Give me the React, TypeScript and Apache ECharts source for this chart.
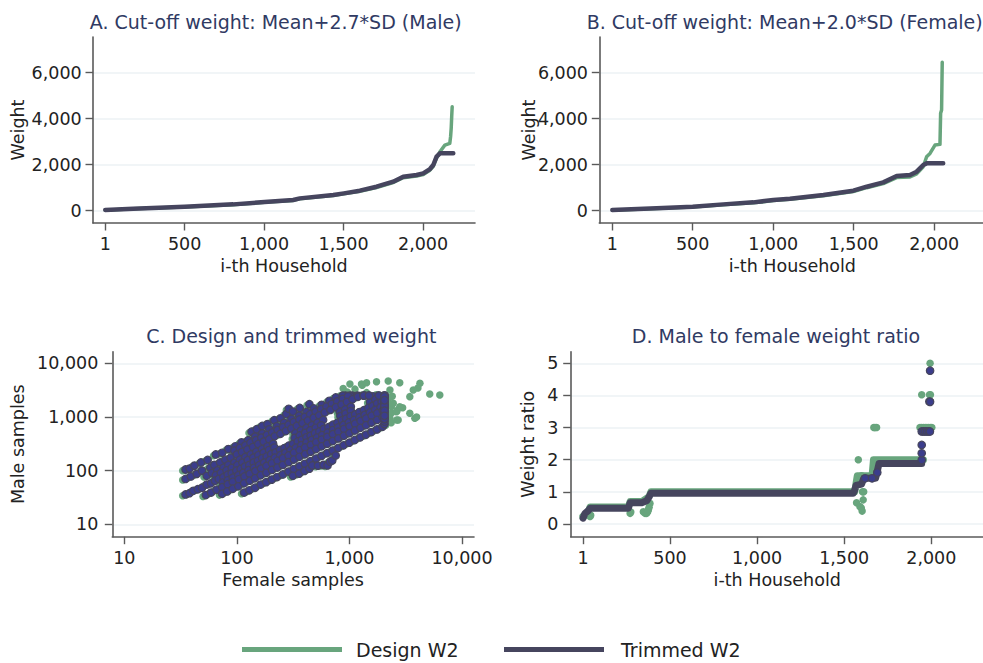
import React, { useEffect, useRef } from "react";
import * as echarts from "echarts";

const FONT = '"DejaVu Sans", sans-serif';
const GREEN = "#68a57d";
const DARK = "#46455e";
const DOT_DARK = "#3b3d8c";
const TITLE_C = "#303a63";
const TEXT_C = "#222222";
const AXIS_C = "#5a5a5a";
const GRID_C = "#edf2f5";

// ---------- Panel titles / legend ----------
const panelTitles = [
  "A. Cut-off weight: Mean+2.7*SD (Male)",
  "B. Cut-off weight: Mean+2.0*SD (Female)",
  "C. Design and trimmed weight",
  "D. Male to female weight ratio",
];
const legendNames = ["Design W2", "Trimmed W2"];

// ---------- Tick values ----------
const householdTicks = [1, 500, 1000, 1500, 2000];
const weightTicks = [0, 2000, 4000, 6000];
const logTicks = [10, 100, 1000, 10000];
const ratioTicks = [0, 1, 2, 3, 4, 5];

// ---------- Panel A: male weights, sorted [i-th household, weight] ----------
const designMale = [
  [1, 18], [177, 80], [500, 163], [806, 262], [1003, 362], [1183, 448], [1225, 515],
  [1435, 660], [1502, 732], [1602, 845], [1707, 1010], [1812, 1225], [1875, 1435],
  [1959, 1505], [2001, 1575], [2043, 1760], [2064, 1930], [2085, 2300], [2106, 2560],
  [2137, 2850], [2168, 2930], [2173, 3220], [2177, 3600], [2180, 4100], [2183, 4520],
];
const trimmedMale = [
  [1, 30], [177, 87], [500, 174], [806, 275], [1003, 377], [1183, 464], [1225, 536],
  [1435, 681], [1502, 754], [1602, 870], [1707, 1043], [1812, 1261], [1875, 1478],
  [1959, 1551], [2001, 1623], [2043, 1812], [2064, 1986], [2085, 2348], [2106, 2493],
  [2190, 2493],
];

// ---------- Panel B: female weights ----------
const designFemale = [
  [1, 20], [276, 90], [500, 160], [690, 255], [877, 340], [1001, 440], [1104, 495],
  [1312, 650], [1498, 830], [1581, 1000], [1684, 1180], [1767, 1440], [1850, 1470],
  [1891, 1600], [1932, 1913], [1953, 2348], [1974, 2490], [2005, 2855], [2036, 2884],
  [2040, 4232], [2046, 4377], [2050, 6450],
];
const trimmedFemale = [
  [1, 29], [276, 101], [500, 174], [690, 275], [877, 362], [1001, 464], [1104, 522],
  [1312, 681], [1498, 870], [1581, 1043], [1684, 1232], [1767, 1507], [1850, 1551],
  [1891, 1696], [1932, 1986], [1953, 2058], [2056, 2058],
];

// ---------- Panel C: [female weight, male weight] ----------
const designR4 = [[128,505],[142,560],[160,650],[178,700],[205,830],[232,900],[262,1080],[275,1350],[300,1200],[345,1400],[420,1650],[880,3400],[1010,4110]];
const designR3 = [[33,100],[36,104],[40,118],[46,135],[52,150],[62,190],[70,205],[80,240],[92,270],[105,320],[120,350],[138,410],[160,470],[185,560],[215,640],[250,740],[290,870],[340,1010],[395,1180],[460,1370],[540,1600],[630,1900],[720,2200],[830,2480],[960,2900],[1120,3300],[1300,3900]];
const designR25 = [[90,225],[101,252],[113,282],[126,315],[141,352],[157,392],[176,440],[196,490],[219,548],[245,612],[274,685],[306,765],[342,855],[382,955],[427,1068],[477,1192],[533,1332],[595,1488],[665,1662],[743,1858],[830,2075],[927,2318]];
const designR2 = [[33,67],[37,74],[42,83],[47,95],[55,108],[60,122],[68,135],[75,152],[84,166],[95,190],[106,212],[118,236],[132,262],[148,298],[165,330],[185,368],[207,415],[232,462],[260,520],[290,582],[325,648],[365,730],[408,815],[458,918],[512,1020],[575,1150],[645,1290],[722,1445],[810,1620],[905,1810],[1015,2030],[1135,2270],[1270,2540],[1420,2840]];
const designR15 = [[51,76],[57,86],[64,96],[72,108],[80,121],[90,134],[101,152],[113,170],[127,190],[142,214],[159,238],[178,268],[200,300],[315,472],[353,530],[395,592],[443,665],[496,744],[556,834],[781,1170],[875,1312],[980,1470],[1542,2313],[1727,2590]];
const designR125 = [[62,78],[69,86],[77,96],[86,107],[96,120],[107,134],[119,149],[133,166],[148,185],[165,206],[184,230],[205,256],[310,388],[345,431],[385,481],[429,536],[478,598],[533,666],[790,988],[880,1100],[981,1226],[1450,1813],[1616,2020],[1800,2250],[2010,2510]];
const designR1 = [[33,34],[36,36],[39,40],[43,43],[47,46],[51,52],[56,55],[61,62],[66,67],[72,71],[79,80],[86,85],[94,95],[103,102],[112,113],[123,122],[134,135],[147,146],[160,162],[175,174],[192,193],[210,208],[230,232],[252,250],[275,278],[300,298],[330,332],[360,357],[395,398],[430,428],[470,474],[515,512],[565,568],[620,615],[680,684],[745,740],[815,820],[890,885],[975,980],[1070,1065],[1170,1175],[1280,1275],[1400,1405],[1530,1525],[1680,1690],[1840,1830],[2010,2020],[2200,2190],[2400,2420]];
const designR08 = [[71,57],[79,63],[88,70],[98,78],[109,87],[121,97],[135,108],[150,120],[167,134],[186,149],[207,166],[231,185],[257,206],[286,229],[319,255],[355,284],[396,317],[441,353],[491,393],[547,438],[610,488],[680,544],[757,606],[844,675],[940,752],[1047,838],[1167,934],[1300,1040],[1448,1158],[1614,1291],[1798,1438],[2003,1602],[2230,1785]];
const designR067 = [[50,33],[56,37],[63,42],[70,47],[79,53],[88,59],[99,66],[111,74],[124,83],[139,93],[156,104],[174,116],[195,130],[219,146],[245,163],[274,183],[307,205],[344,229],[385,257],[432,288],[483,322],[541,361],[606,404],[679,453],[761,507],[852,568],[954,636],[1069,713],[1197,798],[1341,894],[1502,1001],[1682,1121],[1884,1256],[2110,1407],[2360,1570]];
const designR05 = [[70,35],[78,39],[88,44],[98,49],[110,55],[124,62],[138,69],[155,78],[174,87],[195,98],[218,109],[244,122],[274,137],[306,153],[343,172],[385,192],[431,215],[482,241],[540,270],[605,303],[678,339],[759,380],[850,425],[952,476],[1066,533],[1194,597],[1338,669],[1498,749],[1678,839],[1880,940],[2105,1052],[2360,1180],[2650,1325],[2970,1485]];
const designR033 = [[110,37],[123,41],[138,46],[155,52],[173,58],[194,65],[217,72],[244,81],[273,91],[305,102],[342,114],[383,128],[429,143],[481,160],[538,179],[603,201],[675,225],[756,252],[847,282],[949,316],[1063,354],[1190,397],[1333,444],[1493,498],[1672,557],[1873,624],[2100,700],[2350,783],[2630,877]];
const designR025 = [[300,76],[340,84],[380,94],[420,104],[446,119],[500,118],[560,122],[609,119],[640,140],[670,147],[719,183]];
const designOutliers = [[1280,4110],[1420,4340],[1740,4540],[2210,4680],[2800,4340],[4230,4240],[4060,3470],[2290,3180],[3440,2390],[5170,2680],[6350,2570],[2450,1795],[2800,1550],[3440,1170],[3810,944],[2710,877],[2290,944],[2620,1250],[3690,3190],[3950,1000]];

const trimmedR4 = [[135,530],[150,590],[168,680],[187,735],[215,870],[244,945],[275,1135],[289,1420],[315,1260],[362,1470],[441,1730],[924,2500],[1060,2500]];
const trimmedR3 = [[35,105],[38,109],[42,124],[48,142],[55,158],[65,200],[74,215],[84,252],[97,284],[110,336],[126,368],[145,430],[168,494],[194,588],[226,672],[263,777],[305,914],[357,1060],[415,1240],[483,1440],[567,1680],[662,2000],[756,2310],[872,2500],[1010,2500],[1180,2500],[1365,2500]];
const trimmedR25 = [[95,236],[106,265],[119,296],[132,331],[148,370],[165,412],[185,462],[206,515],[230,575],[257,643],[288,719],[321,803],[359,898],[401,1003],[448,1121],[501,1252],[560,1399],[625,1562],[698,1745],[780,1951],[872,2179],[973,2434]];
const trimmedR2 = [[35,70],[39,78],[44,87],[49,100],[58,113],[63,128],[71,142],[79,160],[88,174],[100,200],[111,223],[124,248],[139,275],[155,313],[173,347],[194,386],[217,436],[244,485],[273,546],[305,611],[341,680],[383,767],[428,856],[481,964],[538,1071],[604,1208],[677,1355],[758,1517],[851,1700],[950,1900],[1066,2130],[1190,2380],[1330,2500],[1490,2500]];
const trimmedR15 = [[54,80],[60,90],[67,101],[76,113],[84,127],[95,141],[106,160],[119,179],[133,200],[149,225],[167,250],[187,281],[210,315],[331,496],[371,557],[415,622],[465,698],[521,781],[584,876],[820,1229],[919,1378],[1029,1544],[1619,2429],[1813,2500]];
const trimmedR125 = [[65,82],[72,90],[81,101],[90,112],[101,126],[112,141],[125,156],[140,174],[155,194],[173,216],[193,242],[215,269],[326,407],[362,453],[404,505],[450,563],[502,628],[560,699],[830,1037],[924,1155],[1030,1287],[1523,1904],[1697,2121],[1890,2363],[2050,2500]];
const trimmedR1 = [[35,36],[38,38],[41,42],[45,45],[49,48],[54,55],[59,58],[64,65],[69,70],[76,75],[83,84],[90,89],[99,100],[108,107],[118,119],[129,128],[141,142],[154,153],[168,170],[184,183],[202,203],[221,218],[242,244],[265,263],[289,292],[315,313],[347,349],[378,375],[415,418],[452,449],[494,498],[541,538],[593,596],[651,646],[714,718],[782,777],[856,861],[935,929],[1024,1029],[1124,1118],[1229,1234],[1344,1339],[1470,1475],[1607,1601],[1764,1775],[1932,1922],[2050,2121],[2050,2300],[2050,2500]];
const trimmedR08 = [[75,60],[83,66],[92,74],[103,82],[114,91],[127,102],[142,113],[158,126],[175,141],[195,156],[217,174],[243,194],[270,216],[300,240],[335,268],[373,298],[416,333],[463,371],[516,413],[574,460],[641,512],[714,571],[795,636],[886,709],[987,790],[1099,880],[1225,981],[1365,1092],[1520,1216],[1695,1356],[1888,1510],[2050,1682],[2050,1874]];
const trimmedR067 = [[53,35],[59,39],[66,44],[74,49],[83,56],[92,62],[104,69],[117,78],[130,87],[146,98],[164,109],[183,122],[205,137],[230,153],[257,171],[288,192],[322,215],[361,240],[404,270],[454,302],[507,338],[568,379],[636,424],[713,476],[799,532],[895,596],[1002,668],[1122,749],[1257,838],[1408,939],[1577,1051],[1766,1177],[1978,1319],[2050,1477],[2050,1650]];
const trimmedR05 = [[74,37],[82,41],[92,46],[103,51],[116,58],[130,65],[145,72],[163,82],[183,91],[205,103],[229,114],[256,128],[288,144],[321,161],[360,181],[404,202],[453,226],[506,253],[567,284],[635,318],[712,356],[797,399],[893,446],[1000,500],[1119,560],[1254,627],[1405,702],[1573,786],[1762,881],[1974,987],[2050,1105],[2050,1239],[2050,1391],[2050,1559]];
const trimmedR033 = [[116,39],[129,43],[145,48],[163,55],[182,61],[204,68],[228,76],[256,85],[287,96],[320,107],[359,120],[402,134],[450,150],[505,168],[565,188],[633,211],[709,236],[794,265],[889,296],[996,332],[1116,372],[1250,417],[1400,466],[1568,523],[1756,585],[1967,655],[2050,735],[2050,822],[2050,921]];
const trimmedR025 = [[315,80],[357,88],[399,99],[441,109],[468,125],[525,124],[588,128],[639,125],[672,147],[704,154],[755,192]];
const trimmedOutliers = [[1340,2500],[1490,2500],[1830,2500],[2050,2500],[2050,2400],[2050,1885],[2050,1628],[2050,1229],[2050,991],[2050,921],[2050,1313],[2050,1050],[2050,2050]];

// ---------- Panel D: [i-th household, male/female ratio] ----------
const designRatioRun = [[1,0.25],[25,0.3],[41,0.53],[261,0.53],[271,0.7],[340,0.7],[380,0.85],[390,1.0],[1560,1.0],[1575,1.5],[1660,1.5],[1668,2.0],[1955,2.0]];
const designRatioDots = [[1,0.22],[41,0.23],[45,0.27],[271,0.33],[275,0.37],[347,0.38],[357,0.33],[366,0.33],[372,0.38],[376,0.44],[380,0.52],[385,0.64],[1571,0.66],[1581,2.0],[1590,0.54],[1598,0.5],[1603,0.4],[1609,0.75],[1605,1.0],[1612,1.0],[1600,1.5],[1670,3.0],[1677,3.0],[1686,3.0],[1935,3.0],[1945,3.0],[1955,3.0],[1965,3.0],[1975,3.0],[1985,3.0],[1995,3.0],[2003,3.0],[1945,4.02],[1990,4.02],[1995,4.02],[1993,5.0]];
const trimmedRatioRun = [[1,0.18],[12,0.33],[32,0.42],[41,0.49],[261,0.49],[271,0.66],[338,0.66],[366,0.72],[381,0.85],[390,0.96],[1552,0.96],[1560,1.05],[1568,1.2],[1600,1.24],[1612,1.42],[1680,1.42],[1688,1.6],[1700,1.88],[1945,1.88]];
const trimmedRatioDots = [[1945,1.99],[1945,2.2],[1945,2.46],[1945,2.88],[1955,2.88],[1965,2.88],[1975,2.88],[1985,2.88],[1992,2.88],[1989,3.81],[1993,3.8],[1993,4.77],[1620,1.42],[1660,1.42],[1690,1.6]];

const fmt = (v: number) => Math.round(v).toLocaleString("en-US");

function makeAxis(opts: any) {
  const { gridIndex, type, min, max, ticks, name, nameGap, isY, labelMargin, split } = opts;
  return {
    type,
    gridIndex,
    min,
    max,
    name,
    nameLocation: "middle",
    nameGap,
    nameRotate: isY ? 90 : 0,
    nameMoveOverlap: false,
    nameTextStyle: { fontFamily: FONT, fontSize: 17.5, color: TEXT_C },
    axisLine: { show: true, onZero: false, lineStyle: { color: AXIS_C, width: 1.6 } },
    axisTick: { show: true, inside: false, length: 7.5, customValues: ticks, lineStyle: { color: AXIS_C, width: 1.4 } },
    axisLabel: {
      show: true,
      customValues: ticks,
      margin: labelMargin,
      fontFamily: FONT,
      fontSize: 17.5,
      color: TEXT_C,
      formatter: (v: number) => fmt(v),
      showMinLabel: true,
      showMaxLabel: true,
      hideOverlap: false,
    },
    splitLine: { show: !!split, lineStyle: { color: GRID_C, width: 1.5 } },
    minorTick: { show: false },
    minorSplitLine: { show: false },
  };
}

export default function App() {
  const ref = useRef<HTMLDivElement>(null);
  useEffect(() => {
    document.body.style.margin = "0";
    if (!ref.current) return;
    const chart = echarts.init(ref.current, null, { renderer: "svg" });

    const designScatter = [
      ...designR4, ...designR3, ...designR25, ...designR2, ...designR15, ...designR125, ...designR1,
      ...designR08, ...designR067, ...designR05, ...designR033, ...designR025, ...designOutliers,
    ];
    const trimmedScatter = [
      ...trimmedR4, ...trimmedR3, ...trimmedR25, ...trimmedR2, ...trimmedR15, ...trimmedR125, ...trimmedR1,
      ...trimmedR08, ...trimmedR067, ...trimmedR05, ...trimmedR033, ...trimmedR025, ...trimmedOutliers,
    ];

    const titlePos = [
      [275.7, 22],
      [784.7, 22],
      [291.3, 335.5],
      [776, 335.5],
    ];

    const lineSeries = (data: any, xi: number, color: string, width: number, z: number) => ({
      type: "line",
      xAxisIndex: xi,
      yAxisIndex: xi,
      data,
      symbol: "none",
      showSymbol: false,
      silent: true,
      z,
      lineStyle: { color, width, cap: "round", join: "round" },
    });

    const option: any = {
      animation: false,
      backgroundColor: "#ffffff",
      textStyle: { fontFamily: FONT },
      grid: [
        { left: 93, top: 37, width: 382, height: 186, containLabel: false, outerBoundsMode: "none" },
        { left: 599.3, top: 37, width: 386, height: 186, containLabel: false, outerBoundsMode: "none" },
        { left: 112.3, top: 351.7, width: 361.7, height: 185, containLabel: false, outerBoundsMode: "none" },
        { left: 570.7, top: 351.7, width: 413, height: 185, containLabel: false, outerBoundsMode: "none" },
      ],
      xAxis: [
        makeAxis({ gridIndex: 0, type: "value", min: -76, max: 2326.5, ticks: householdTicks, name: "i-th Household", nameGap: 34, labelMargin: 12, isY: false }),
        makeAxis({ gridIndex: 1, type: "value", min: -80, max: 2317.5, ticks: householdTicks, name: "i-th Household", nameGap: 34, labelMargin: 12, isY: false }),
        makeAxis({ gridIndex: 2, type: "log", min: 7.82, max: 12786, ticks: logTicks, name: "Female samples", nameGap: 34, labelMargin: 12, isY: false }),
        makeAxis({ gridIndex: 3, type: "value", min: -70, max: 2300.8, ticks: householdTicks, name: "i-th Household", nameGap: 34, labelMargin: 12, isY: false }),
      ],
      yAxis: [
        makeAxis({ gridIndex: 0, type: "value", min: -535, max: 7552, ticks: weightTicks, name: "Weight", nameGap: 66, labelMargin: 11.3, isY: true, split: true }),
        makeAxis({ gridIndex: 1, type: "value", min: -535, max: 7552, ticks: weightTicks, name: "Weight", nameGap: 61.4, labelMargin: 11.3, isY: true, split: true }),
        makeAxis({ gridIndex: 2, type: "log", min: 5.875, max: 16444, ticks: logTicks, name: "Male samples", nameGap: 85.5, labelMargin: 14, isY: true, split: true }),
        makeAxis({ gridIndex: 3, type: "value", min: -0.396, max: 5.361, ticks: ratioTicks, name: "Weight ratio", nameGap: 34, labelMargin: 12.4, isY: true, split: true }),
      ],
      series: [
        lineSeries(designMale, 0, GREEN, 3.5, 2),
        lineSeries(trimmedMale, 0, DARK, 4.5, 3),
        lineSeries(designFemale, 1, GREEN, 3.5, 2),
        lineSeries(trimmedFemale, 1, DARK, 4.5, 3),
        {
          type: "scatter",
          xAxisIndex: 2,
          yAxisIndex: 2,
          data: designScatter,
          symbol: "circle",
          symbolSize: 7.5,
          silent: true,
          z: 2,
          itemStyle: { color: GREEN, opacity: 1 },
        },
        {
          type: "scatter",
          xAxisIndex: 2,
          yAxisIndex: 2,
          data: trimmedScatter,
          symbol: "circle",
          symbolSize: 7.5,
          silent: true,
          z: 3,
          itemStyle: { color: DOT_DARK, borderColor: DARK, borderWidth: 1.2, opacity: 1 },
        },
        lineSeries(designRatioRun, 3, GREEN, 7, 2),
        {
          type: "scatter",
          xAxisIndex: 3,
          yAxisIndex: 3,
          data: designRatioDots,
          symbol: "circle",
          symbolSize: 7.5,
          silent: true,
          z: 2,
          itemStyle: { color: GREEN, opacity: 1 },
        },
        lineSeries(trimmedRatioRun, 3, DARK, 7, 3),
        {
          type: "scatter",
          xAxisIndex: 3,
          yAxisIndex: 3,
          data: trimmedRatioDots,
          symbol: "circle",
          symbolSize: 7.5,
          silent: true,
          z: 4,
          itemStyle: { color: DOT_DARK, borderColor: DARK, borderWidth: 1.2, opacity: 1 },
        },
      ],
      graphic: [
        ...panelTitles.map((t, i) => ({
          type: "text",
          x: titlePos[i][0],
          y: titlePos[i][1],
          silent: true,
          style: {
            text: t,
            fontFamily: FONT,
            fontSize: 19,
            fill: TITLE_C,
            textAlign: "center",
            textVerticalAlign: "middle",
          },
        })),
        { type: "rect", shape: { x: 242, y: 647, width: 100, height: 5 }, style: { fill: GREEN }, silent: true },
        {
          type: "text",
          x: 356,
          y: 649.5,
          silent: true,
          style: { text: legendNames[0], fontFamily: FONT, fontSize: 19, fill: TEXT_C, textAlign: "left", textVerticalAlign: "middle" },
        },
        { type: "rect", shape: { x: 504, y: 647, width: 100, height: 5 }, style: { fill: DARK }, silent: true },
        {
          type: "text",
          x: 621,
          y: 649.5,
          silent: true,
          style: { text: legendNames[1], fontFamily: FONT, fontSize: 19, fill: TEXT_C, textAlign: "left", textVerticalAlign: "middle" },
        },
      ],
    };

    chart.setOption(option);
    return () => {
      chart.dispose();
    };
  }, []);

  return <div ref={ref} style={{ width: 983, height: 663, overflow: "hidden" }} />;
}
